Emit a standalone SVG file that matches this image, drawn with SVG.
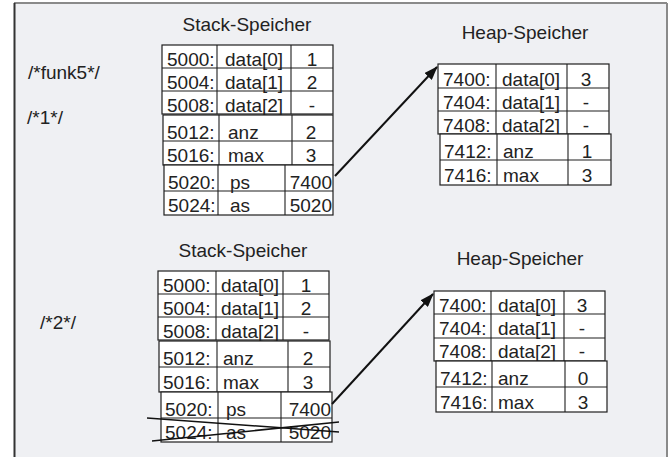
<svg xmlns="http://www.w3.org/2000/svg" width="672" height="457" viewBox="0 0 672 457">
  <style>
    .t { font-family: "Liberation Sans", Arial, sans-serif; font-size: 19px; fill: #222; }
    .m { text-anchor: middle; }
    .e { text-anchor: end; }
    .box { fill: #ffffff; stroke: #1e1e1e; stroke-width: 1.2; }
    .ln { stroke: #1e1e1e; stroke-width: 1.1; fill: none; }
    .arrow { stroke: #111; stroke-width: 2; fill: none; marker-end: url(#head); }
  </style>
  <defs>
    <marker id="head" viewBox="0 0 14 10" refX="13" refY="5" markerWidth="14" markerHeight="10" markerUnits="userSpaceOnUse" orient="auto">
      <path d="M0,0 L14,5 L0,10 Z" fill="#111"/>
    </marker>
  </defs>

  <!-- panel -->
  <rect x="0" y="0" width="672" height="457" fill="#ffffff"/>
  <rect x="14" y="3" width="653" height="460" fill="#eff0f3"/>
  <line x1="14" y1="3" x2="667" y2="3" stroke="#8a8a8a" stroke-width="2"/>
  <line x1="667" y1="3" x2="667" y2="457" stroke="#8a8a8a" stroke-width="2"/>
  <line x1="14.5" y1="3" x2="14.5" y2="457" stroke="#333" stroke-width="2"/>

  <!-- comments -->
  <g id="labels">
    <text class="t" x="28" y="79">/*funk5*/</text>
    <text class="t" x="27" y="124">/*1*/</text>
    <text class="t" x="40" y="329">/*2*/</text>
  </g>

  <!-- state 1: stack -->
  <g id="stack1">
    <text class="t m" x="247" y="31">Stack-Speicher</text>
    <rect class="box" x="162" y="45" width="171" height="69"/>
    <line class="ln" x1="162" y1="68" x2="333" y2="68"/>
    <line class="ln" x1="162" y1="91" x2="333" y2="91"/>
    <line class="ln" x1="217" y1="45" x2="217" y2="114"/>
    <line class="ln" x1="291" y1="45" x2="291" y2="114"/>
    <text class="t" x="167" y="66">5000:</text><text class="t" x="225" y="66">data[0]</text><text class="t m" x="312" y="66">1</text>
    <text class="t" x="167" y="89">5004:</text><text class="t" x="225" y="89">data[1]</text><text class="t m" x="312" y="89">2</text>
    <text class="t" x="167" y="112">5008:</text><text class="t" x="225" y="112">data[2]</text><text class="t m" x="312" y="112">-</text>

    <rect class="box" x="163" y="115" width="170" height="50"/>
    <line class="ln" x1="163" y1="141" x2="333" y2="141"/>
    <line class="ln" x1="219" y1="115" x2="219" y2="165"/>
    <line class="ln" x1="292" y1="115" x2="292" y2="165"/>
    <text class="t" x="167" y="139">5012:</text><text class="t" x="228" y="139">anz</text><text class="t m" x="311" y="139">2</text>
    <text class="t" x="167" y="162">5016:</text><text class="t" x="228" y="162">max</text><text class="t m" x="311" y="162">3</text>

    <rect class="box" x="164" y="165" width="169" height="50"/>
    <line class="ln" x1="164" y1="191" x2="333" y2="191"/>
    <line class="ln" x1="218" y1="165" x2="218" y2="215"/>
    <line class="ln" x1="285" y1="165" x2="285" y2="215"/>
    <text class="t" x="168" y="189">5020:</text><text class="t" x="230" y="189">ps</text><text class="t e" x="332" y="189">7400</text>
    <text class="t" x="168" y="212">5024:</text><text class="t" x="230" y="212">as</text><text class="t e" x="332" y="212">5020</text>
  </g>

  <!-- state 1: heap -->
  <g id="heap1">
    <text class="t m" x="525" y="39">Heap-Speicher</text>
    <rect class="box" x="438" y="64" width="171" height="70"/>
    <line class="ln" x1="438" y1="88" x2="609" y2="88"/>
    <line class="ln" x1="438" y1="111" x2="609" y2="111"/>
    <line class="ln" x1="496" y1="64" x2="496" y2="134"/>
    <line class="ln" x1="567" y1="64" x2="567" y2="134"/>
    <text class="t" x="443" y="86">7400:</text><text class="t" x="502" y="86">data[0]</text><text class="t m" x="586" y="86">3</text>
    <text class="t" x="443" y="109">7404:</text><text class="t" x="502" y="109">data[1]</text><text class="t m" x="586" y="109">-</text>
    <text class="t" x="443" y="132">7408:</text><text class="t" x="502" y="132">data[2]</text><text class="t m" x="586" y="132">-</text>

    <rect class="box" x="440" y="134" width="171" height="51"/>
    <line class="ln" x1="440" y1="160" x2="611" y2="160"/>
    <line class="ln" x1="497" y1="134" x2="497" y2="185"/>
    <line class="ln" x1="568" y1="134" x2="568" y2="185"/>
    <text class="t" x="444" y="158">7412:</text><text class="t" x="503" y="158">anz</text><text class="t m" x="587" y="158">1</text>
    <text class="t" x="444" y="182">7416:</text><text class="t" x="503" y="182">max</text><text class="t m" x="587" y="182">3</text>
  </g>

  <!-- state 2: stack -->
  <g id="stack2">
    <text class="t m" x="243" y="257">Stack-Speicher</text>
    <rect class="box" x="158" y="271" width="171" height="69"/>
    <line class="ln" x1="158" y1="294" x2="329" y2="294"/>
    <line class="ln" x1="158" y1="317" x2="329" y2="317"/>
    <line class="ln" x1="216" y1="271" x2="216" y2="340"/>
    <line class="ln" x1="283" y1="271" x2="283" y2="340"/>
    <text class="t" x="163" y="292">5000:</text><text class="t" x="221" y="292">data[0]</text><text class="t m" x="306" y="292">1</text>
    <text class="t" x="163" y="315">5004:</text><text class="t" x="221" y="315">data[1]</text><text class="t m" x="306" y="315">2</text>
    <text class="t" x="163" y="338">5008:</text><text class="t" x="221" y="338">data[2]</text><text class="t m" x="306" y="338">-</text>

    <rect class="box" x="159" y="341" width="171" height="51"/>
    <line class="ln" x1="159" y1="367" x2="330" y2="367"/>
    <line class="ln" x1="217" y1="341" x2="217" y2="392"/>
    <line class="ln" x1="288" y1="341" x2="288" y2="392"/>
    <text class="t" x="163" y="365">5012:</text><text class="t" x="223" y="365">anz</text><text class="t m" x="308" y="365">2</text>
    <text class="t" x="163" y="389">5016:</text><text class="t" x="223" y="389">max</text><text class="t m" x="308" y="389">3</text>

    <rect class="box" x="161" y="392" width="171" height="50"/>
    <line class="ln" x1="161" y1="418" x2="332" y2="418"/>
    <line class="ln" x1="218" y1="392" x2="218" y2="442"/>
    <line class="ln" x1="281" y1="392" x2="281" y2="442"/>
    <text class="t" x="165" y="416">5020:</text><text class="t" x="226" y="416">ps</text><text class="t e" x="331" y="416">7400</text>
    <text class="t" x="165" y="439">5024:</text><text class="t" x="226" y="439">as</text><text class="t e" x="331" y="439">5020</text>
    <!-- crossed-out slot -->
    <line x1="147" y1="418" x2="339" y2="432" stroke="#111" stroke-width="1.6"/>
    <line x1="152" y1="441" x2="339" y2="422" stroke="#111" stroke-width="1.6"/>
  </g>

  <!-- state 2: heap -->
  <g id="heap2">
    <text class="t m" x="520" y="265">Heap-Speicher</text>
    <rect class="box" x="434" y="291" width="171" height="70"/>
    <line class="ln" x1="434" y1="314" x2="605" y2="314"/>
    <line class="ln" x1="434" y1="338" x2="605" y2="338"/>
    <line class="ln" x1="491" y1="291" x2="491" y2="361"/>
    <line class="ln" x1="564" y1="291" x2="564" y2="361"/>
    <text class="t" x="439" y="312">7400:</text><text class="t" x="498" y="312">data[0]</text><text class="t m" x="582" y="312">3</text>
    <text class="t" x="439" y="335">7404:</text><text class="t" x="498" y="335">data[1]</text><text class="t m" x="582" y="335">-</text>
    <text class="t" x="439" y="358">7408:</text><text class="t" x="498" y="358">data[2]</text><text class="t m" x="582" y="358">-</text>

    <rect class="box" x="436" y="361" width="171" height="51"/>
    <line class="ln" x1="436" y1="387" x2="607" y2="387"/>
    <line class="ln" x1="492" y1="361" x2="492" y2="412"/>
    <line class="ln" x1="565" y1="361" x2="565" y2="412"/>
    <text class="t" x="440" y="385">7412:</text><text class="t" x="498" y="385">anz</text><text class="t m" x="583" y="385">0</text>
    <text class="t" x="440" y="409">7416:</text><text class="t" x="498" y="409">max</text><text class="t m" x="583" y="409">3</text>
  </g>

  <!-- pointers ps -> heap -->
  <g id="connectors">
    <line class="arrow" x1="335" y1="176" x2="437" y2="67"/>
    <line class="arrow" x1="332" y1="404" x2="433" y2="294"/>
  </g>
</svg>
